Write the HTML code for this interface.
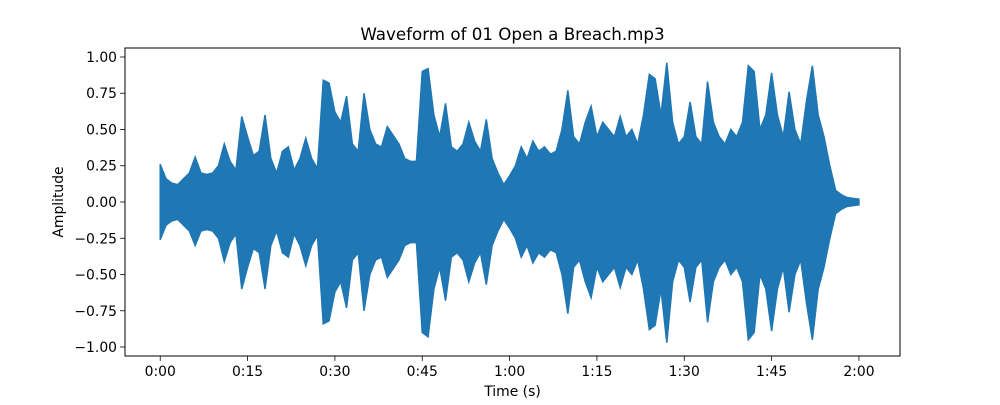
<!DOCTYPE html>
<html><head><meta charset="utf-8"><style>
body{margin:0;background:#fff}
svg text{font-family:"DejaVu Sans","Liberation Sans",sans-serif;fill:#000}
</style></head><body>
<svg id="chart" width="1000" height="400" xmlns="http://www.w3.org/2000/svg">
<rect width="1000" height="400" fill="#fff"/>
<text x="512.5" y="40" font-size="16.7" text-anchor="middle">Waveform of 01 Open a Breach.mp3</text>
<text x="512.5" y="396" font-size="13.9" text-anchor="middle">Time (s)</text>
<text x="0" y="0" font-size="13.9" text-anchor="middle" transform="translate(63,202) rotate(-90)">Amplitude</text>
<g id="plot"></g>
<rect x="125" y="48" width="775" height="308" fill="none" stroke="#000" stroke-width="1"/>
</svg>
<script>
const timesSec = [];
for (let i = 0; i <= 120; i++) timesSec.push(i);
const peakTop = [0.26,0.16,0.13,0.12,0.16,0.2,0.31,0.2,0.19,0.2,0.25,0.40,0.28,0.22,0.59,0.45,0.32,0.35,0.60,0.3,0.2,0.35,0.38,0.22,0.3,0.44,0.3,0.23,0.84,0.82,0.62,0.55,0.73,0.4,0.35,0.75,0.5,0.4,0.38,0.52,0.46,0.4,0.3,0.28,0.28,0.9,0.92,0.6,0.45,0.68,0.38,0.35,0.4,0.55,0.42,0.35,0.57,0.3,0.2,0.12,0.18,0.25,0.38,0.3,0.42,0.35,0.38,0.33,0.35,0.5,0.77,0.45,0.4,0.55,0.66,0.45,0.55,0.5,0.45,0.59,0.45,0.5,0.4,0.6,0.88,0.85,0.6,0.96,0.55,0.4,0.45,0.69,0.45,0.4,0.83,0.55,0.45,0.4,0.5,0.45,0.55,0.94,0.9,0.5,0.6,0.89,0.6,0.45,0.76,0.5,0.4,0.7,0.94,0.6,0.45,0.25,0.08,0.05,0.03,0.025,0.02];
const peakBottom = [-0.26,-0.16,-0.13,-0.12,-0.16,-0.2,-0.3,-0.2,-0.19,-0.2,-0.25,-0.41,-0.28,-0.22,-0.6,-0.45,-0.32,-0.35,-0.6,-0.3,-0.2,-0.35,-0.38,-0.22,-0.3,-0.44,-0.3,-0.23,-0.84,-0.82,-0.62,-0.55,-0.73,-0.4,-0.35,-0.75,-0.5,-0.4,-0.38,-0.52,-0.46,-0.4,-0.3,-0.28,-0.28,-0.9,-0.93,-0.6,-0.45,-0.68,-0.38,-0.35,-0.4,-0.55,-0.42,-0.35,-0.57,-0.3,-0.2,-0.12,-0.18,-0.25,-0.38,-0.3,-0.42,-0.35,-0.38,-0.33,-0.35,-0.5,-0.77,-0.45,-0.4,-0.55,-0.66,-0.45,-0.55,-0.5,-0.45,-0.59,-0.45,-0.5,-0.4,-0.6,-0.88,-0.85,-0.6,-0.97,-0.55,-0.4,-0.45,-0.69,-0.45,-0.4,-0.83,-0.55,-0.45,-0.4,-0.5,-0.45,-0.55,-0.95,-0.9,-0.5,-0.6,-0.89,-0.6,-0.45,-0.76,-0.5,-0.4,-0.7,-0.95,-0.6,-0.45,-0.25,-0.08,-0.05,-0.03,-0.025,-0.02];
const xTickValues = [0,15,30,45,60,75,90,105,120];
const xTickLabels = ["0:00","0:15","0:30","0:45","1:00","1:15","1:30","1:45","2:00"];
const yTickValues = [-1,-0.75,-0.5,-0.25,0,0.25,0.5,0.75,1];
const yTickLabels = ["\u22121.00","\u22120.75","\u22120.50","\u22120.25","0.00","0.25","0.50","0.75","1.00"];

const L=125,R=900,T=48,B=356, xmin=-6.05,xmax=127.05, ymin=-1.062,ymax=1.062;
const xs = v => L + (v - xmin) / (xmax - xmin) * (R - L);
const ys = v => B - (v - ymin) / (ymax - ymin) * (B - T);
const NS="http://www.w3.org/2000/svg";
const plot=document.getElementById('plot');
function mk(tag, attrs){const e=document.createElementNS(NS,tag);for(const k in attrs)e.setAttribute(k,attrs[k]);return e;}

let pts=[];
for(let i=0;i<timesSec.length;i++){pts.push(xs(timesSec[i]).toFixed(2)+','+ys(peakTop[i]).toFixed(2));}
for(let i=timesSec.length-1;i>=0;i--){pts.push(xs(timesSec[i]).toFixed(2)+','+ys(peakBottom[i]).toFixed(2));}
const wave=mk('polygon',{points:pts.join(' '),fill:'#1f77b4',stroke:'#1f77b4','stroke-width':'1.5','stroke-linejoin':'miter'});


plot.appendChild(wave);

xTickValues.forEach((v,i)=>{
  const x=xs(v);
  const t=mk('line',{x1:x,x2:x,y1:B,y2:B+4.9,stroke:'#000','stroke-width':'0.8'});
  
  
  plot.appendChild(t);
  const lb=mk('text',{x:x,y:B+20,'font-size':'13.9','text-anchor':'middle'});
  lb.textContent=xTickLabels[i];
  
  
  plot.appendChild(lb);
});
yTickValues.forEach((v,i)=>{
  const y=ys(v);
  const t=mk('line',{x1:L-4.9,x2:L,y1:y,y2:y,stroke:'#000','stroke-width':'0.8'});
  
  
  plot.appendChild(t);
  const lb=mk('text',{x:L-8,y:y+5,'font-size':'13.9','text-anchor':'end'});
  lb.textContent=yTickLabels[i];
  
  
  plot.appendChild(lb);
});
</script>
</body></html>
